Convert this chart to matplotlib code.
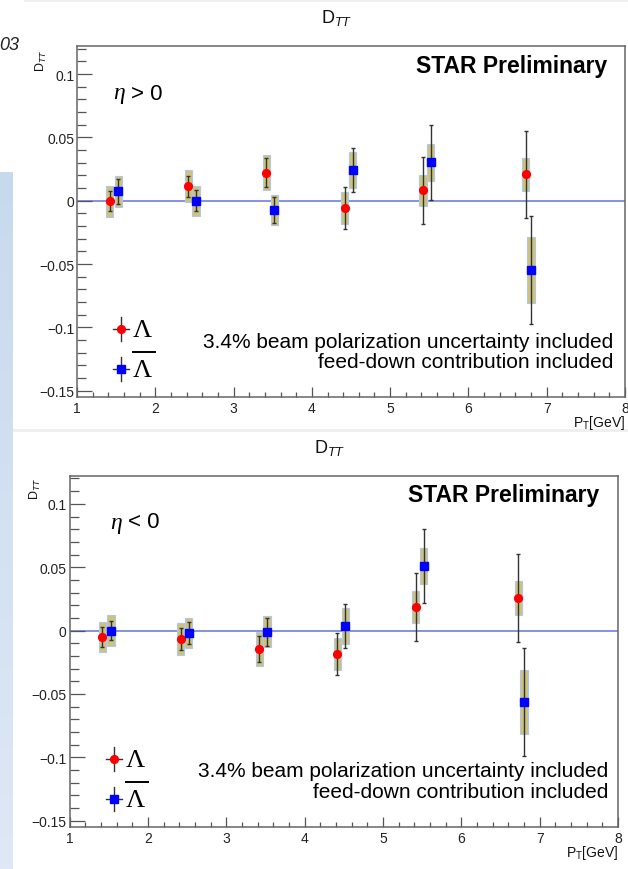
import matplotlib
matplotlib.use("Agg")
import numpy as np
import matplotlib.pyplot as plt
from matplotlib.patches import Rectangle
from matplotlib.lines import Line2D
from matplotlib.ticker import MultipleLocator, FixedLocator, FixedFormatter

plt.rcParams['font.family'] = ['Liberation Sans', 'DejaVu Sans']
plt.rcParams['mathtext.fontset'] = 'custom'
plt.rcParams['mathtext.rm'] = 'Liberation Sans'
plt.rcParams['mathtext.it'] = 'Liberation Sans:italic'
plt.rcParams['mathtext.bf'] = 'Liberation Sans:bold'

# pT bin centres (GeV), Lambda and anti-Lambda slightly shifted
pt_lambda = [1.42, 2.42, 3.42, 4.42, 5.42, 6.73]
pt_antilambda = [1.53, 2.52, 3.52, 4.52, 5.52, 6.80]

# eta > 0
dtt_lam_pos = [-0.0005, 0.0114, 0.0222, -0.0058, 0.0082, 0.0208]
stat_lam_pos = [0.0080, 0.0085, 0.0115, 0.0167, 0.0263, 0.0345]
sys_lam_pos = [0.0120, 0.0125, 0.0138, 0.0128, 0.0121, 0.0132]
dtt_alam_pos = [0.0074, 0.0000, -0.0073, 0.0243, 0.0303, -0.0547]
stat_alam_pos = [0.0099, 0.0082, 0.0105, 0.0171, 0.0295, 0.0427]
sys_alam_pos = [0.0120, 0.0120, 0.0120, 0.0142, 0.0145, 0.0259]

# eta < 0
dtt_lam_neg = [-0.0050, -0.0066, -0.0143, -0.0185, 0.0188, 0.0254]
stat_lam_neg = [0.0079, 0.0086, 0.0103, 0.0167, 0.0267, 0.0347]
sys_lam_neg = [0.0121, 0.0123, 0.0135, 0.0125, 0.0125, 0.0135]
dtt_alam_neg = [0.0000, -0.0018, -0.0010, 0.0035, 0.0510, -0.0566]
stat_alam_neg = [0.0075, 0.0085, 0.0108, 0.0174, 0.0293, 0.0425]
sys_alam_neg = [0.0120, 0.0120, 0.0123, 0.0140, 0.0145, 0.0254]

x_ticks = [1, 2, 3, 4, 5, 6, 7, 8]
x_tick_labels = ['1', '2', '3', '4', '5', '6', '7', '8']
y_ticks = [-0.15, -0.1, -0.05, 0.0, 0.05, 0.1]
y_tick_labels = ['\u22120.15', '\u22120.1', '\u22120.05', '0', '0.05', '0.1']

W, H = 628, 870
fig = plt.figure(figsize=(W / 100, H / 100), dpi=100)
fig.patch.set_facecolor('white')


def fx(px):
    return px / W


def fy(py):
    return 1 - py / H


# slide decorations: grey strips and the blue side bar
fig.add_artist(Rectangle((fx(24), fy(3)), fx(604), 3 / H, transform=fig.transFigure,
                         facecolor='#efefef', edgecolor='none', zorder=0))
fig.add_artist(Rectangle((fx(13), fy(433)), fx(615), 3 / H, transform=fig.transFigure,
                         facecolor='#efefef', edgecolor='none', zorder=0))
side = fig.add_axes([0, 0, fx(13), (870 - 173) / H])
grad = np.linspace(0, 1, 256).reshape(-1, 1)
c_top = np.array([0.78, 0.855, 0.93])
c_bot = np.array([0.875, 0.91, 0.96])
img = c_top[None, None, :] * (1 - grad[..., None]) + c_bot[None, None, :] * grad[..., None]
side.imshow(img, aspect='auto', extent=[0, 1, 0, 1], origin='upper')
side.set_axis_off()
fig.text(fx(-1), fy(45), '03', fontsize=13, style='italic', color='#222222',
         ha='left', va='center')

BOX_HALF = 0.046


def draw_panel(ax, lam, lam_stat, lam_sys, alam, alam_stat, alam_sys):
    ax.axhline(0, color='#7080dc', lw=1.2, zorder=1)
    for xs, ys, stat, sys in ((pt_lambda, lam, lam_stat, lam_sys),
                              (pt_antilambda, alam, alam_stat, alam_sys)):
        for x, y, s in zip(xs, ys, sys):
            ax.add_patch(Rectangle((x - BOX_HALF, y - s), 2 * BOX_HALF, 2 * s,
                                   facecolor='#cbc37e', edgecolor='#b3c6ea',
                                   lw=0.8, zorder=2))
        ax.errorbar(xs, ys, yerr=stat, fmt='none', ecolor='#333333',
                    elinewidth=1.0, capsize=1.6, capthick=1.0, zorder=3)
    ax.plot(pt_lambda, lam, 'o', color='#ff0000', ms=5.6, mec='#ff0000', zorder=4)
    ax.plot(pt_antilambda, alam, 's', color='#0000ff', ms=5.8, mec='#0000ff', zorder=4)

    ax.set_xlim(1, 8)
    ax.set_ylim(-0.155, 0.1222)
    ax.xaxis.set_major_locator(FixedLocator(x_ticks))
    ax.xaxis.set_major_formatter(FixedFormatter(x_tick_labels))
    ax.xaxis.set_minor_locator(MultipleLocator(0.2))
    ax.yaxis.set_major_locator(FixedLocator(y_ticks))
    ax.yaxis.set_major_formatter(FixedFormatter(y_tick_labels))
    ax.yaxis.set_minor_locator(MultipleLocator(0.01))
    ax.tick_params(which='both', direction='in', top=False, right=False,
                   color='#555555', labelcolor='#222222', labelsize=10)
    ax.tick_params(axis='y', which='major', length=10.8, width=0.9, pad=2)
    ax.tick_params(axis='y', which='minor', length=6.5, width=0.9)
    ax.tick_params(axis='x', which='major', length=7.2, width=0.9, pad=3)
    ax.tick_params(axis='x', which='minor', length=3.6, width=0.9)
    for sp in ax.spines.values():
        sp.set_color('#666666')
        sp.set_linewidth(1.1)


def legend_marks(ax, left, right, top, bottom, mx, my_red, my_blue, lx):
    w = right - left
    h = bottom - top
    for my, mk, col in ((my_red, 'o', '#ff0000'), (my_blue, 's', '#0000ff')):
        ax_x = (mx - left) / w
        ax_y = (bottom - my) / h
        ax.add_line(Line2D([ax_x, ax_x], [ax_y - 12 / h, ax_y + 12 / h],
                           transform=ax.transAxes, color='#333333', lw=1.0,
                           clip_on=False, zorder=5))
        ax.add_line(Line2D([ax_x - 8 / w, ax_x + 8 / w], [ax_y, ax_y],
                           transform=ax.transAxes, color='#333333', lw=1.0,
                           clip_on=False, zorder=5))
        ax.plot([ax_x], [ax_y], mk, color=col, mec=col,
                ms=5.6 if mk == 'o' else 5.8, transform=ax.transAxes,
                clip_on=False, zorder=6)
    fig.text(fx(lx), fy(my_red + 1), '\u039b', fontsize=19,
             family=['Liberation Serif', 'DejaVu Serif'], ha='left', va='center',
             color='black')
    fig.text(fx(lx), fy(my_blue + 1), '\u039b', fontsize=19,
             family=['Liberation Serif', 'DejaVu Serif'], ha='left', va='center',
             color='black')
    bar_y = fy(my_blue - 17)
    fig.add_artist(Line2D([fx(lx), fx(lx + 22)], [bar_y, bar_y],
                          transform=fig.transFigure, color='black', lw=1.4))


panels = [
    # left, top, right, bottom (px), data, texts
    dict(box=(77, 47, 625, 398),
         data=(dtt_lam_pos, stat_lam_pos, sys_lam_pos,
               dtt_alam_pos, stat_alam_pos, sys_alam_pos),
         title=(337, 18), ylab=(41, 50), star=(607, 66),
         eta=(113, 94, '> 0'), leg=(121, 330, 370, 133),
         note=(613, 342, 363), xlab=(625, 423)),
    dict(box=(69.5, 476.7, 618, 828),
         data=(dtt_lam_neg, stat_lam_neg, sys_lam_neg,
               dtt_alam_neg, stat_alam_neg, sys_alam_neg),
         title=(330, 448), ylab=(35, 478), star=(599, 496),
         eta=(110, 523, '< 0'), leg=(114, 760, 800, 126),
         note=(608, 772, 793), xlab=(618, 853)),
]

for p in panels:
    left, top, right, bottom = p['box']
    ax = fig.add_axes([fx(left), fy(bottom), (right - left) / W, (bottom - top) / H])
    draw_panel(ax, *p['data'])

    tx, ty = p['title']
    fig.text(fx(tx), fy(ty), r'D$_{TT}$', fontsize=13, ha='center', va='center',
             color='#111111')
    yx, yy = p['ylab']
    fig.text(fx(yx), fy(yy), r'D$_{TT}$', fontsize=9, rotation=90, ha='center',
             va='top', color='#111111')
    sx, sy = p['star']
    fig.text(fx(sx), fy(sy), 'STAR Preliminary', fontsize=16.5, fontweight='bold',
             ha='right', va='center', color='black')
    ex, ey, etxt = p['eta']
    fig.text(fx(ex), fy(ey), '\u03b7', fontsize=17, style='italic',
             family=['Liberation Serif', 'DejaVu Serif'], ha='left', va='center',
             color='black')
    fig.text(fx(ex + 18), fy(ey), etxt, fontsize=16, ha='left', va='center',
             color='black')
    mx, myr, myb, lx = p['leg']
    legend_marks(ax, left, right, top, bottom, mx, myr, myb, lx)
    nx, ny1, ny2 = p['note']
    fig.text(fx(nx), fy(ny1), '3.4% beam polarization uncertainty included',
             fontsize=15, ha='right', va='center', color='black')
    fig.text(fx(nx), fy(ny2), 'feed-down contribution included',
             fontsize=15, ha='right', va='center', color='black')
    xx, xy = p['xlab']
    fig.text(fx(xx), fy(xy), r'P$_{\mathrm{T}}$[GeV]', fontsize=10, ha='right',
             va='center', color='#111111')

fig.savefig('out.png', dpi=100, facecolor='white')
